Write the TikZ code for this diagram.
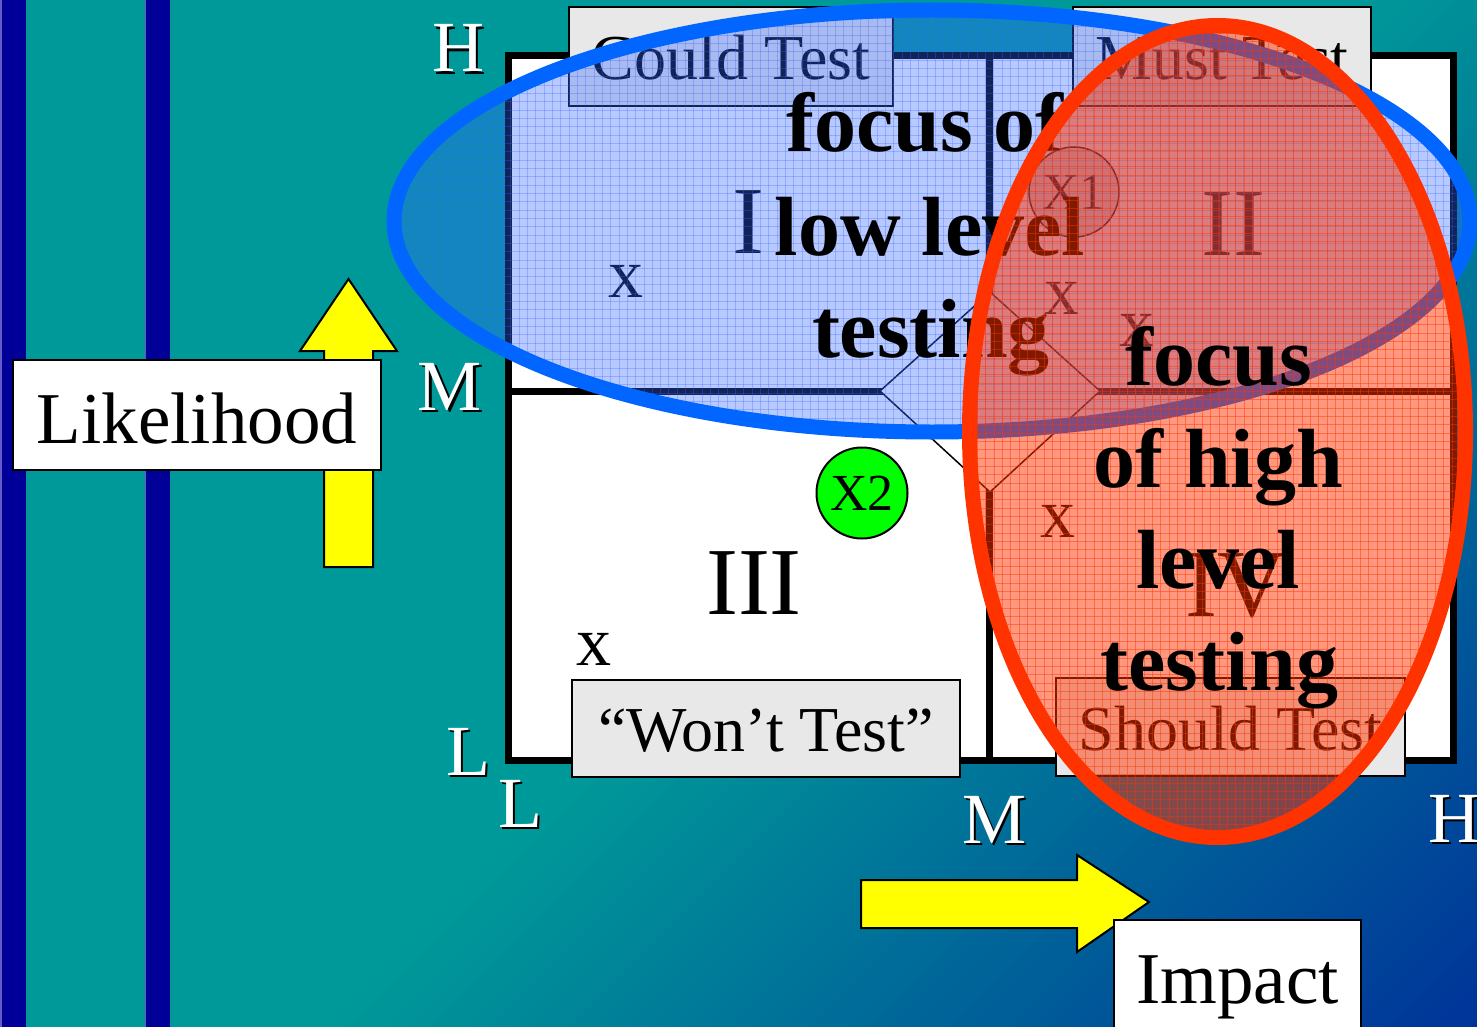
\documentclass[tikz,border=0pt]{standalone}
\usepackage{fontspec}
\setmainfont{Liberation Serif}
\definecolor{teal0}{RGB}{0,153,153}
\definecolor{navy0}{RGB}{0,51,153}
\definecolor{stripe}{RGB}{0,0,153}
\definecolor{stripeedge}{RGB}{100,90,200}
\definecolor{boxgrey}{RGB}{232,232,232}
\definecolor{ovblue}{RGB}{51,102,255}
\definecolor{ringblue}{RGB}{0,102,255}
\definecolor{ovred}{RGB}{255,51,0}
\definecolor{xgreen}{RGB}{0,255,0}
\definecolor{arrowyellow}{RGB}{255,255,0}
\tikzset{
  greybox/.style={draw=black, line width=1.5pt, fill=boxgrey, inner sep=0pt,
    text height=46pt, text depth=0pt, font=\fontsize{64}{70}\selectfont},
  labelbox/.style={draw=black, line width=2pt, fill=white, inner sep=0pt,
    text height=56pt, text depth=0pt, font=\fontsize{73}{78}\selectfont},
  quad/.style={inner sep=0pt, anchor=base, font=\fontsize{96}{100}\selectfont},
  xmark/.style={inner sep=0pt, anchor=base, font=\fontsize{70}{72}\selectfont},
  axl/.style={inner sep=0pt, anchor=base, font=\fontsize{72}{76}\selectfont, text=white},
  axs/.style={inner sep=0pt, anchor=base, font=\fontsize{72}{76}\selectfont, text=black},
  focustxt/.style={inner sep=0pt, anchor=base, font=\bfseries\fontsize{84}{100}\selectfont},
  yarrow/.style={fill=arrowyellow, draw=black, line width=2pt, line join=miter}
}
\begin{document}
\begin{tikzpicture}[x=1pt, y=-1pt]
\useasboundingbox (0,0) rectangle (1477,1027);
% background gradient: teal up to x+y=1356, navy at x+y=2504
\begin{scope}
  \clip (0,0) rectangle (1477,1027);
  \fill[teal0] (0,0) rectangle (1477,1027);
  \foreach \i in {0,...,57} {
    \pgfmathsetmacro{\ua}{1356+\i*20}
    \pgfmathsetmacro{\ub}{\ua+22}
    \pgfmathsetmacro{\mix}{min(100,(\ua+10-1356)/11.48)}
    \fill[navy0!\mix!teal0] (\ua,0) -- (\ub,0) -- (0,\ub) -- (0,\ua) -- cycle;
  }
\end{scope}
% stripes
\fill[stripe] (0,0) rectangle (26,1027);
\fill[stripe] (145,0) rectangle (170,1027);
\draw[stripeedge, line width=1.5pt] (0.8,0) -- (0.8,1027);
\draw[stripeedge, line width=1.5pt] (145.5,0) -- (145.5,1027);
% grid
\fill[white] (508,56) rectangle (1453,760);
\draw[line width=7pt] (989,56) -- (989,760);
\draw[line width=7pt] (508,391) -- (1453,391);
\draw[line width=7pt] (508,56) rectangle (1453,760);
\filldraw[fill=white, draw=black, line width=1.5pt] (880,391) -- (990,292) -- (1100,391) -- (990,492) -- cycle;
% grey boxes
\node[greybox, minimum width=324pt, minimum height=99pt] (could) at (731,56.5) {Could Test};
\node[greybox, minimum width=298pt, minimum height=99pt] (must) at (1222,56.5) {Must Test};
\node[greybox, minimum width=388pt, minimum height=97pt] (wont) at (766,728.5) {“Won’t Test”};
\node[greybox, minimum width=349pt, minimum height=98pt] (should) at (1230.5,727) {Should Test};
% quadrant labels
\node[quad] (q1) at (748,253) {I};
\node[quad] (q2) at (1233,255) {II};
\node[quad] (q3) at (754,614) {III};
\node[quad] (q4) at (1236,616) {IV};
% x marks
\node[xmark] (xa) at (626,297) {x};
\node[xmark] (xb) at (1062,314) {x};
\node[xmark] (xc) at (1137,346) {x};
\node[xmark] (xd) at (1058,537) {x};
\node[xmark] (xe) at (594,665) {x};
% X1, X2
\node[circle, draw=black, line width=1.5pt, fill=black, fill opacity=0.15, text opacity=1,
      minimum size=90pt, inner sep=0pt, font=\fontsize{52}{56}\selectfont] (x1) at (1074,192) {X1};
\node[circle, draw=black, line width=2pt, fill=xgreen, minimum size=91pt, inner sep=0pt,
      font=\fontsize{52}{56}\selectfont] (x2) at (862,493) {X2};
% axis letters with shadows
\node[axs] (hTopS) at (460.5,74.5) {H};   \node[axl] (hTop) at (458,72) {H};
\node[axs] (mLeftS) at (452.5,412.5) {M}; \node[axl] (mLeft) at (450,410) {M};
\node[axs] (lLeftS) at (470.5,777.5) {L}; \node[axl] (lLeft) at (468,775) {L};
\node[axs] (lBotS) at (522.5,829.5) {L};  \node[axl] (lBot) at (520,827) {L};
\node[axs] (mBotS) at (996.5,845.5) {M};  \node[axl] (mBot) at (994,843) {M};
\node[axs] (hRightS) at (1456.5,844.5) {H}; \node[axl] (hRight) at (1454,842) {H};
% yellow arrows
\draw[yarrow] (324,567) -- (324,351) -- (300,351) -- (348.5,279) -- (397,351) -- (373,351) -- (373,567) -- cycle;
\draw[yarrow] (861,880) -- (1077,880) -- (1077,855) -- (1149,902) -- (1077,952) -- (1077,928) -- (861,928) -- cycle;
% axis boxes
\node[labelbox, minimum width=368pt, minimum height=110pt] (lik) at (197,415) {Likelihood};
\node[labelbox, minimum width=247pt, minimum height=110pt] (imp) at (1237.5,975) {Impact};
% blue ellipse
\begin{scope}
  \clip (932,221) ellipse [x radius=538, y radius=211];
  \fill[ovblue, opacity=0.35] (932,221) ellipse [x radius=538, y radius=211];
  \foreach \k in {0,...,130} \draw[ovblue, opacity=0.3, line width=0.8pt] ({394+8.33*\k},10) -- ++(0,422);
  \foreach \k in {0,...,51} \draw[ovblue, opacity=0.3, line width=0.8pt] (394,{10+8.33*\k}) -- ++(1076,0);
\end{scope}
\draw[ringblue, line width=15pt] (932,221) ellipse [x radius=538, y radius=211];
% low level text
\node[focustxt] (lo1) at (925,152) {focus of};
\node[focustxt] (lo2) at (930,255) {low level};
\node[focustxt] (lo3) at (931,357) {testing};
% red ellipse
\begin{scope}
  \clip (1217.5,431.5) ellipse [x radius=248, y radius=406];
  \fill[ovred, opacity=0.5] (1217.5,431.5) ellipse [x radius=248, y radius=406];
  \foreach \k in {0,...,60} \draw[ovred, opacity=0.45, line width=0.8pt] ({969+8.33*\k},25) -- ++(0,813);
  \foreach \k in {0,...,98} \draw[ovred, opacity=0.45, line width=0.8pt] (969,{25+8.33*\k}) -- ++(498,0);
\end{scope}
\draw[ovred, line width=15pt] (1217.5,431.5) ellipse [x radius=248, y radius=406];
% high level text
\node[focustxt] (hi1) at (1219,385) {focus};
\node[focustxt] (hi2) at (1218,487) {of high};
\node[focustxt] (hi3) at (1218,588) {level};
\node[focustxt] (hi4) at (1219,690) {testing};
\end{tikzpicture}
\end{document}
